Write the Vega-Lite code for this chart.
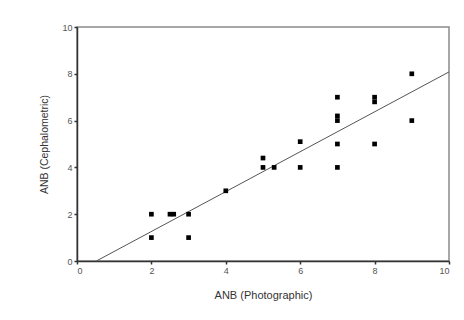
{
  "$schema": "https://vega.github.io/schema/vega-lite/v6.json",
  "width": 372,
  "height": 234,
  "autosize": "none",
  "padding": {"left": 77, "top": 27, "right": 15, "bottom": 59},
  "background": "white",
  "config": {
    "view": {"stroke": "#8a8a8a", "strokeWidth": 1.5},
    "font": "Liberation Sans"
  },
  "datasets": {
    "points": [
      {"photo": 2, "ceph": 2},
      {"photo": 2, "ceph": 1},
      {"photo": 2.5, "ceph": 2},
      {"photo": 2.6, "ceph": 2},
      {"photo": 3, "ceph": 2},
      {"photo": 3, "ceph": 1},
      {"photo": 4, "ceph": 3},
      {"photo": 5, "ceph": 4.4},
      {"photo": 5, "ceph": 4},
      {"photo": 5.3, "ceph": 4},
      {"photo": 6, "ceph": 5.1},
      {"photo": 6, "ceph": 4},
      {"photo": 7, "ceph": 7},
      {"photo": 7, "ceph": 6.2},
      {"photo": 7, "ceph": 6},
      {"photo": 7, "ceph": 5},
      {"photo": 7, "ceph": 4},
      {"photo": 8, "ceph": 7},
      {"photo": 8, "ceph": 6.8},
      {"photo": 8, "ceph": 5},
      {"photo": 9, "ceph": 8},
      {"photo": 9, "ceph": 6}
    ],
    "fit": [
      {"photo": 0.52, "ceph": 0},
      {"photo": 10, "ceph": 8.08}
    ]
  },
  "layer": [
    {
      "data": {"name": "fit"},
      "mark": {"type": "line", "color": "#555555", "strokeWidth": 1},
      "encoding": {
        "x": {"field": "photo", "type": "quantitative"},
        "y": {"field": "ceph", "type": "quantitative"}
      }
    },
    {
      "data": {"name": "points"},
      "mark": {"type": "square", "color": "black", "filled": true, "opacity": 1, "size": 22},
      "encoding": {
        "x": {
          "field": "photo", "type": "quantitative",
          "scale": {"domain": [0, 10], "nice": false},
          "axis": {
            "title": "ANB (Photographic)", "values": [0, 2, 4, 6, 8, 10],
            "grid": false, "domainColor": "#333333", "domainWidth": 1.5,
            "tickColor": "#333333", "tickSize": 3, "tickWidth": 1.5,
            "labelFontSize": 9, "labelColor": "#555555", "labelPadding": 2,
            "titleFontSize": 11, "titleFontWeight": "normal", "titleColor": "#333333", "titlePadding": 14
          }
        },
        "y": {
          "field": "ceph", "type": "quantitative",
          "scale": {"domain": [0, 10], "nice": false},
          "axis": {
            "title": "ANB (Cephalometric)", "values": [0, 2, 4, 6, 8, 10],
            "grid": false, "domainColor": "#333333", "domainWidth": 1.5,
            "tickColor": "#333333", "tickSize": 3, "tickWidth": 1.5,
            "labelFontSize": 9, "labelColor": "#555555", "labelPadding": 2,
            "titleFontSize": 10.5, "titleFontWeight": "normal", "titleColor": "#333333", "titlePadding": 12
          }
        }
      }
    }
  ]
}
